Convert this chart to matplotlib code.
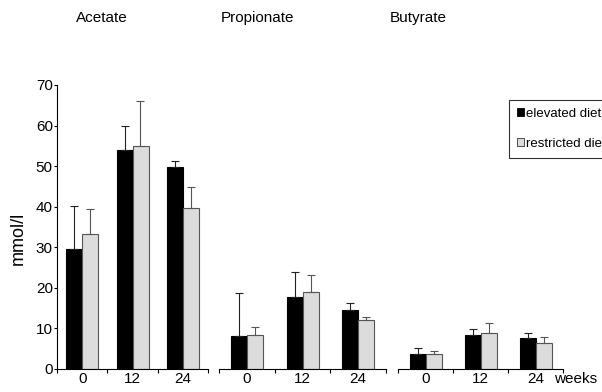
import matplotlib
matplotlib.use('Agg')
import matplotlib.pyplot as plt
from matplotlib.patches import Rectangle
from matplotlib import font_manager
import numpy as np

acids = ['Acetate', 'Propionate', 'Butyrate']
weeks = ['0', '12', '24']

elevated = [[29.6, 54.0, 49.8], [8.1, 17.7, 14.5], [3.7, 8.4, 7.6]]
elevated_err = [[10.6, 5.9, 1.4], [10.6, 6.1, 1.7], [1.5, 1.4, 1.2]]
restricted = [[33.2, 55.0, 39.7], [8.5, 19.1, 12.0], [3.6, 8.8, 6.3]]
restricted_err = [[6.2, 11.0, 5.1], [1.9, 4.1, 0.7], [0.8, 2.5, 1.7]]

names = [f.name for f in font_manager.fontManager.ttflist]
fam = 'Liberation Sans Narrow' if 'Liberation Sans Narrow' in names else 'Liberation Sans'
plt.rcParams['font.family'] = [fam, 'DejaVu Sans']

W, H = 602, 392
fig = plt.figure(figsize=(W / 100, H / 100), dpi=100)

# panel extents in pixels (left, right)
panels = [(57, 208), (219, 386), (398, 563)]
bottom_px, top_px = 369, 85

x = np.arange(3)
axes = []
for i, (l, r) in enumerate(panels):
    ax = fig.add_axes([l / W, 1 - bottom_px / H, (r - l) / W, (bottom_px - top_px) / H])
    bw = 16 / ((r - l) / 3)
    ax.bar(x - bw / 2, elevated[i], bw, color='black', edgecolor='black', linewidth=0.8)
    ax.bar(x + bw / 2, restricted[i], bw, color='#dcdcdc', edgecolor='#555555', linewidth=0.8)
    ax.errorbar(x - bw / 2, elevated[i], yerr=[np.zeros(3), elevated_err[i]], fmt='none',
                ecolor='#222222', elinewidth=0.8, capsize=3, capthick=0.8)
    ax.errorbar(x + bw / 2, restricted[i], yerr=[np.zeros(3), restricted_err[i]], fmt='none',
                ecolor='#555555', elinewidth=0.8, capsize=3, capthick=0.8)
    ax.set_xlim(-0.5, 2.5)
    ax.set_ylim(0, 70)
    ax.set_xticks(x)
    ax.set_xticklabels(weeks, fontsize=11)
    ax.tick_params(axis='x', which='major', length=0, pad=2)
    ax.set_xticks([-0.5, 0.5, 1.5, 2.5], minor=True)
    ax.tick_params(axis='x', which='minor', length=3, width=0.8, direction='out')
    for s in ['top', 'right']:
        ax.spines[s].set_visible(False)
    ax.spines['bottom'].set_linewidth(0.8)
    if i == 0:
        ax.set_yticks(range(0, 71, 10))
        ax.tick_params(axis='y', length=2, width=0.8, labelsize=11, pad=1)
        ax.spines['left'].set_linewidth(0.8)
    else:
        ax.spines['left'].set_visible(False)
        ax.set_yticks([])
    axes.append(ax)

axes[2].annotate('weeks', xy=(2, 0), xycoords='data', xytext=(13, -2),
                 textcoords='offset points', ha='left', va='top', fontsize=11,
                 annotation_clip=False)

title_x = [102, 258, 418]
for t, px in zip(acids, title_x):
    fig.text(px / W, 1 - 18 / H, t, ha='center', va='center', fontsize=11)

fig.text(18 / W, 1 - 238 / H, 'mmol/l', rotation=90, ha='center', va='center', fontsize=13)

handles = [Rectangle((0, 0), 1, 1, facecolor='black', edgecolor='black', linewidth=0.6),
           Rectangle((0, 0), 1, 1, facecolor='#dcdcdc', edgecolor='#333333', linewidth=0.6)]
leg = fig.legend(handles, ['elevated diet', 'restricted diet'], loc='upper left',
                 bbox_to_anchor=(509 / W, 1 - 100 / H), fontsize=9.5, frameon=True,
                 fancybox=False, edgecolor='black', handlelength=0.55, handleheight=0.55,
                 handletextpad=0.15, labelspacing=1.35, borderpad=0.6, borderaxespad=0)
leg.get_frame().set_linewidth(0.8)

fig.savefig('out.png', dpi=100)
